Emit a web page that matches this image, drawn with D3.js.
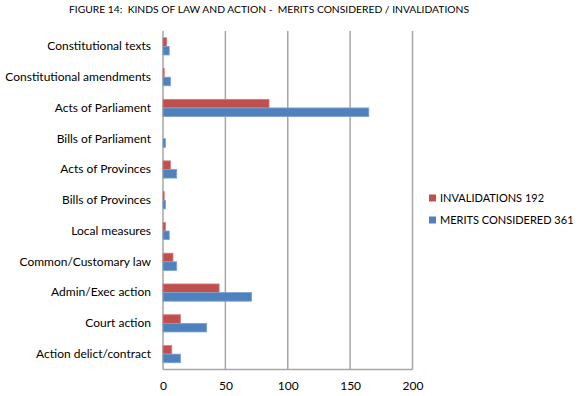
<!DOCTYPE html>
<html>
<head>
<meta charset="utf-8">
<script src="https://cdn.jsdelivr.net/npm/d3@7"></script>
<style>
  body { margin: 0; background: #fff; }
  svg text { font-family: Lato, "Open Sans", sans-serif; fill: #000; }
</style>
</head>
<body>
<div id="container"></div>
<script>
/* DATA */
const categories = [
  "Constitutional texts", "Constitutional amendments", "Acts of Parliament",
  "Bills of Parliament", "Acts of Provinces", "Bills of Provinces",
  "Local measures", "Common/Customary law", "Admin/Exec action",
  "Court action", "Action delict/contract"
];
const invalidations = [3, 1, 85, 0, 6, 1, 2, 8, 45, 14, 7];
const meritsConsidered = [5, 6, 165, 2, 11, 2, 5, 11, 71, 35, 14];
const seriesNames = ["INVALIDATIONS 192", "MERITS CONSIDERED 361"];
const xTicks = [0, 50, 100, 150, 200];

/* CONSTANTS */
const width = 580, height = 396;
const plot = { left: 163, right: 412.5, top: 31, bottom: 369.5 };
const colors = ["#C0504D", "#4F81BD"];
const strokes = ["#D47E7C", "#7EA2D0"];
const gridColor = "#A6A6A6";

const svg = d3.select("#container").append("svg")
  .attr("width", width).attr("height", height);

/* SCALES */
const xScale = d3.scaleLinear().domain([0, 200]).range([plot.left, plot.right]);
const yScale = d3.scaleBand().domain(categories)
  .range([plot.top, plot.bottom]).paddingInner(0.44).paddingOuter(0.22);
const subScale = d3.scaleBand().domain([0, 1]).range([0, yScale.bandwidth()]);

/* TITLE */
svg.append("text")
  .attr("x", 269).attr("y", 13)
  .attr("text-anchor", "middle")
  .style("font-size", "10.3px")
  .style("white-space", "pre")
  .text("FIGURE 14:  KINDS OF LAW AND ACTION -  MERITS CONSIDERED / INVALIDATIONS");

/* GRID */
svg.append("g").selectAll("line")
  .data(xTicks)
  .join("line")
  .attr("x1", d => xScale(d)).attr("x2", d => xScale(d))
  .attr("y1", plot.top).attr("y2", plot.bottom)
  .attr("stroke", gridColor).attr("stroke-width", 1.5);

svg.append("line")
  .attr("x1", plot.left).attr("x2", plot.right)
  .attr("y1", plot.bottom).attr("y2", plot.bottom)
  .attr("stroke", gridColor).attr("stroke-width", 1.5);

/* X AXIS */
const xAxis = d3.axisBottom(xScale).tickValues(xTicks).tickSize(0).tickPadding(10);
svg.append("g")
  .attr("transform", `translate(0, ${plot.bottom + 2})`)
  .call(xAxis)
  .call(g => g.select(".domain").remove())
  .call(g => g.selectAll("text").style("font-size", "12px").attr("fill", "#000"));

/* Y AXIS LABELS */
const yAxis = d3.axisLeft(yScale).tickSize(0).tickPadding(12);
svg.append("g")
  .attr("transform", `translate(${plot.left}, 0)`)
  .call(yAxis)
  .call(g => g.select(".domain").remove())
  .call(g => g.selectAll("text").style("font-size", "12px").attr("fill", "#000"));

/* BARS */
const seriesData = [invalidations, meritsConsidered];
seriesData.forEach((vals, s) => {
  svg.append("g").selectAll("rect")
    .data(vals.map((v, i) => ({ cat: categories[i], v })))
    .join("rect")
    .attr("x", xScale(0))
    .attr("y", d => yScale(d.cat) + subScale(s))
    .attr("width", d => xScale(d.v) - xScale(0))
    .attr("height", subScale.bandwidth())
    .attr("fill", colors[s])
    .attr("stroke", d => d.v > 0 ? strokes[s] : "none")
    .attr("stroke-width", 0.8);
});

/* LEGEND */
const legend = svg.append("g").selectAll("g")
  .data(seriesNames)
  .join("g")
  .attr("transform", (d, i) => `translate(429, ${198 + i * 22})`);
legend.append("rect")
  .attr("x", 0).attr("y", -3.5).attr("width", 7).attr("height", 7)
  .attr("fill", (d, i) => colors[i]);
legend.append("text")
  .attr("x", 11).attr("y", 0).attr("dy", "0.35em")
  .style("font-size", "11px")
  .text(d => d);
</script>
</body>
</html>
